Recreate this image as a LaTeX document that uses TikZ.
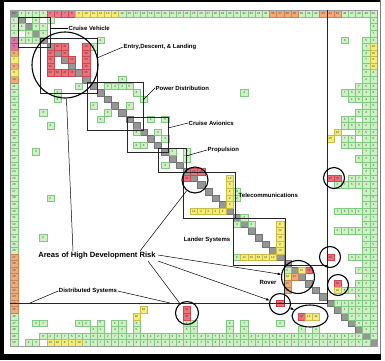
\documentclass[tikz,border=0pt]{standalone}
\usepackage{fontspec}
\setmainfont{Liberation Sans}
\usetikzlibrary{arrows.meta,shapes.geometric}
\definecolor{gfill}{RGB}{204,242,196}
\definecolor{gdraw}{RGB}{130,200,130}
\definecolor{pfill}{RGB}{238,112,122}
\definecolor{pdraw}{RGB}{205,70,80}
\definecolor{yfill}{RGB}{244,238,120}
\definecolor{ydraw}{RGB}{200,190,70}
\definecolor{ofill}{RGB}{240,172,120}
\definecolor{odraw}{RGB}{205,130,80}
\definecolor{mfill}{RGB}{226,110,170}
\definecolor{hpfill}{RGB}{236,120,140}
\definecolor{dfill}{RGB}{150,150,150}
\definecolor{ddraw}{RGB}{115,115,115}
\def\cw{7.18}
\def\ch{6.58}
\newcommand\putcell[4]{\node[#1] (n-#2-#3) at ({18+(#2+0.5)*\cw},{17+(#3+0.5)*\ch}) {#4};}
\begin{document}
\begin{tikzpicture}[x=1pt,y=-1pt,
  cellbase/.style={minimum width=\cw pt,minimum height=\ch pt,inner sep=0pt,line width=0.3pt,font=\fontsize{3}{3}\selectfont,text=black!75},
  gcell/.style={cellbase,fill=gfill,draw=gdraw},
  pcell/.style={cellbase,fill=pfill,draw=pdraw},
  ycell/.style={cellbase,fill=yfill,draw=ydraw},
  ocell/.style={cellbase,fill=ofill,draw=odraw},
  mcell/.style={cellbase,fill=mfill,draw=pdraw},
  hpcell/.style={cellbase,fill=hpfill,draw=pdraw},
  dcell/.style={cellbase,fill=dfill,draw=ddraw},
  hdcell/.style={minimum height=7pt},
  lcell/.style={minimum width=8pt},
  blockbox/.style={draw=black!85,line width=0.7pt},
  riskc/.style={draw=black,line width=1.1pt,circle,inner sep=0pt},
  lbl/.style={font=\bfseries\fontsize{6}{7}\selectfont,inner sep=0.5pt},
  conn/.style={draw=black,line width=0.5pt},
  arr/.style={conn,-{Latex[length=3.5pt,width=2.8pt]}}
]
\useasboundingbox (0,0) rectangle (385,360);
% outer frame
\fill[black] (0,0) rectangle (4,360);
\fill[black] (0,354) rectangle (381,360);
\fill[black] (0,0) rectangle (381,1.5);
\draw[black!50,line width=0.8pt] (380,0) -- (380,354);
% header row
\node[dcell,lcell,hdcell] (corner) at (14,13.5) {Ro};
\newcommand\hcell[2]{\pgfmathtruncatemacro\hn{#2+1}\node[#1,hdcell] (h-#2) at ({18+(#2+0.5)*\cw},13.5) {\hn};}
\newcommand\lcol[2]{\pgfmathtruncatemacro\hn{#2+1}\node[#1,lcell] (l-#2) at (14,{17+(#2+0.5)*\ch}) {\hn};}
\foreach \c in {0,...,3} {\hcell{gcell}{\c}}
\foreach \c in {14,...,34} {\hcell{gcell}{\c}}
\foreach \c in {39,...,41} {\hcell{gcell}{\c}}
\foreach \c in {45,...,49} {\hcell{gcell}{\c}}
\foreach \c in {4,...,7} {\hcell{hpcell}{\c}}
\foreach \c in {8,...,13} {\hcell{ycell}{\c}}
\foreach \c in {35,...,38} {\hcell{ocell}{\c}}
\foreach \c in {42,...,44} {\hcell{ocell}{\c}}
% left column
\foreach \r in {0,...,2} {\lcol{gcell}{\r}}
\foreach \r in {10,...,35} {\lcol{gcell}{\r}}
\foreach \r in {45,...,49} {\lcol{gcell}{\r}}
\foreach \r in {3,4} {\lcol{mcell}{\r}}
\foreach \r in {5,7,9} {\lcol{ocell}{\r}}
\foreach \r in {6,8} {\lcol{ycell}{\r}}
\foreach \r in {36,...,44} {\lcol{ocell}{\r}}
% diagonal
\foreach \k in {0,...,49} {\putcell{dcell}{\k}{\k}{}}
% green cells
\foreach \c/\r/\t in {2/0/6, 4/0/4, 0/1/4, 2/1/4, 3/1/5, 1/2/2, 3/2/3, 1/3/3, 0/3/2, 2/3/4, 11/3/4, 10/4/3, 8/10/4, 5/11/4,
 14/9/4, 16/11/4, 17/12/3, 12/10/3, 13/10/4, 14/10/4, 15/10/5, 10/13/2, 12/14/3, 15/13/2, 11/15/4,
 18/15/4, 20/15/5, 16/17/4, 19/17/3, 17/19/4, 16/19/2, 20/18/3,
 21/20/5, 23/21/4, 20/22/3, 23/20/3, 31/11/4, 45/3/3,
 30/26/4, 30/27/2, 31/30/4, 30/31/4, 32/31/2, 30/36/5,
 3/14/3, 2/20/3, 4/27/2, 3/33/2, 2/46/3, 1/49/2, 2/49/3, 5/12/3, 4/16/4, 37/38/5}
 {\putcell{gcell}{\c}{\r}{\t}}
\newcommand\gcomp[2]{\pgfmathtruncatemacro\gn{mod(#1*5+#2*3,7)+1}\putcell{gcell}{#1}{#2}{\gn}}
\foreach \r in {0,...,3} {\gcomp{49}{\r}}
\foreach \r in {8,...,42} {\gcomp{49}{\r}}
\foreach \r in {3,...,42} {\gcomp{48}{\r}}
\foreach \r in {10,11,12,14,16,17,19,21,24,25,29,32,36,38,40,41,42} {\gcomp{47}{\r}}
\foreach \r in {11,12,15,16,18,19,24,25,29,32,36,41} {\gcomp{46}{\r}}
\foreach \r in {11,15,16,18,19,25,29,32,41} {\gcomp{45}{\r}}
\foreach \r in {25,29,32} {\gcomp{44}{\r}}
\foreach \r in {43,...,48} {\pgfmathtruncatemacro\s{\r+1}\foreach \c in {\s,...,49} {\gcomp{\c}{\r}}}
\foreach \c in {3,...,47} {\gcomp{\c}{48}}
\foreach \c in {9,...,48} {\gcomp{\c}{49}}
\foreach \c in {3,8,9,11,13,14,16,23,24,29,31,36} {\gcomp{\c}{46}}
\foreach \c in {10,11,13,14,16,23,24,29,31,39,41} {\gcomp{\c}{47}}
% pink cells
\foreach \c/\r/\t in {5/4/28, 6/4/36, 9/4/28, 9/5/36, 9/6/28, 9/7/36, 9/8/28, 4/5/36, 4/6/28, 4/7/36, 4/8/28,
 5/8/36, 6/8/28, 7/8/36, 6/5/28, 7/6/36, 24/23/28, 25/23/28, 23/24/36, 43/24/36, 44/24/36, 43/36/38,
 44/40/38, 36/43/38, 23/44/38, 23/45/38, 39/45/38, 40/38/38}
 {\putcell{pcell}{\c}{\r}{\t}}
% yellow cells
\foreach \c/\r/\t in {29/24/12, 29/25/3, 29/26/4, 29/27/2, 29/28/3, 24/29/12, 25/29/2, 26/29/3, 27/29/2, 28/29/2,
 36/31/8, 36/32/12, 36/33/10, 36/34/2, 36/35/10, 31/36/12, 32/36/10, 33/36/52, 34/36/12, 35/36/10,
 49/4/10, 49/5/10, 49/6/8, 49/7/10, 44/17/10, 43/18/10, 44/41/10, 17/44/10, 16/45/10, 40/45/12, 41/45/12,
 4/49/10, 5/49/10, 6/49/8, 7/49/5, 8/49/10, 39/38/12, 37/39/10}
 {\putcell{ycell}{\c}{\r}{\t}}
% orange cells
\foreach \c/\r/\t in {37/40/15, 37/41/12, 38/39/12}
 {\putcell{ocell}{\c}{\r}{\t}}
% matrix outline
\draw[black!40,line width=0.4pt] (10,10) rectangle (377,346);
% subsystem blocks
\draw[blockbox] (18,17) rectangle (50,47);
\draw[blockbox] (40,38) rectangle (97,93);
\draw[blockbox] (87,82) rectangle (143,130);
\draw[blockbox] (127,117) rectangle (168,152);
\draw[blockbox] (158,148) rectangle (186,172);
\draw[blockbox] (183,172) rectangle (235,218);
\draw[blockbox] (233,218) rectangle (285,265);
\draw[blockbox] (284,265) rectangle (327,303);
\draw[blockbox] (327,10) -- (327,303) -- (10,303);
% label anchors on blocks
\coordinate (cvE) at (50,28);
\coordinate (edlE) at (97,58);
\coordinate (pdE) at (143,100);
\coordinate (caE) at (168,128);
\coordinate (prE) at (186,156);
\coordinate (ds1) at (30,303);
\coordinate (ds2) at (170,303);
% labels
\node[lbl,anchor=west] (lcv) at (68,28) {Cruise Vehicle};
\node[lbl,anchor=west] (ledl) at (123,47) {Entry,Descent, \& Landing};
\node[lbl,anchor=west] (lpd) at (155,88) {Power Distribution};
\node[lbl,anchor=west] (lca) at (188,123) {Cruise Avionics};
\node[lbl,anchor=west] (lpr) at (207,150) {Propulsion};
\node[lbl,anchor=west] (ltel) at (238,195) {Telecommunications};
\node[lbl] (llan) at (207,240) {Lander Systems};
\node[lbl] (lrov) at (268,282) {Rover};
\node[lbl] (lds) at (88,291) {Distributed Systems};
\node[font=\bfseries\fontsize{7.6}{9}\selectfont,inner sep=1pt] (lrisk) at (97,256) {Areas of High Development Risk};
\draw[conn] (cvE) -- (lcv.west);
\draw[conn] (edlE) -- (ledl.west);
\draw[conn] (pdE) -- (lpd.west);
\draw[conn] (caE) -- (lca.west);
\draw[conn] (prE) -- (lpr.west);
\draw[conn] (lds.west) -- (ds1);
\draw[conn] (lds.east) -- (ds2);
% risk circles
\node[riskc,minimum size=66pt] (r1) at (65,65) {};
\node[riskc,minimum size=26pt] (r2) at (195,180) {};
\node[riskc,minimum size=21pt] (r3) at (334,178) {};
\node[riskc,minimum size=21pt] (r4) at (330,257) {};
\node[riskc,minimum size=33pt] (r5) at (298,277) {};
\node[riskc,minimum size=21pt] (r6) at (338,285) {};
\node[riskc,minimum size=21pt] (r7) at (280,304) {};
\node[riskc,ellipse,minimum width=36pt,minimum height=22pt] (r8) at (310,316) {};
\node[riskc,minimum size=23pt] (r9) at (187,313) {};
% risk connectors
\coordinate (ra1) at (73,251);
\coordinate (ra2) at (140,251);
\coordinate (ra3) at (158,255);
\coordinate (ra4) at (158,261);
\coordinate (ra5) at (148,261);
\draw[conn] (ra1) -- (r1);
\draw[conn] (ra2) -- (r2);
\draw[arr] (ra3) -- (r5);
\draw[arr] (ra4) -- (r7);
\draw[conn] (ra5) -- (r9);
\draw[arr] (r7) -- (r8);
\end{tikzpicture}
\end{document}
